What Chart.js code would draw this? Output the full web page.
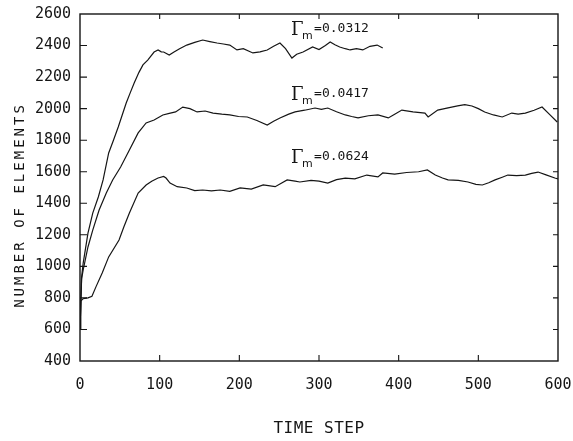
<!DOCTYPE html>
<html>
<head>
<meta charset="utf-8">
<script src="https://cdn.jsdelivr.net/npm/chart.js@4.4.1/dist/chart.umd.min.js"></script>
<style>
  html, body { margin: 0; padding: 0; background: #fff; }
</style>
</head>
<body>
<canvas id="chart" width="573" height="441"></canvas>
<script>
// Gamma_m = 0.0312
const timeA  = [0,2,4,10,16,23,29,36,42,48,53,58,63,68,74,79,85,93,98,102,105,112,118,125,134,144,154,163,172,180,188,197,205,217,226,235,243,251,258,266,272,280,292,300,308,314,320,326,333,339,347,355,364,373,380];
const countA = [600,930,1021,1211,1338,1440,1548,1719,1800,1884,1960,2036,2100,2163,2230,2277,2308,2359,2372,2360,2359,2340,2359,2380,2403,2420,2435,2425,2416,2410,2403,2372,2380,2353,2360,2372,2395,2416,2380,2321,2345,2359,2391,2375,2400,2422,2405,2391,2380,2372,2380,2372,2395,2403,2384];

// Gamma_m = 0.0417
const timeB  = [0,2,4,10,16,24,33,41,51,62,73,83,93,104,112,120,129,138,147,157,167,178,188,199,210,222,235,243,251,262,270,282,295,303,311,322,333,341,349,362,374,387,395,404,418,433,437,449,462,474,483,492,500,508,519,530,542,550,559,570,580,590,599];
const countB = [600,920,977,1123,1230,1357,1465,1548,1630,1738,1846,1909,1928,1960,1970,1979,2010,2000,1979,1985,1972,1965,1960,1950,1947,1925,1896,1920,1941,1965,1979,1990,2004,1995,2004,1980,1960,1950,1941,1955,1960,1941,1965,1991,1980,1972,1947,1991,2005,2017,2025,2017,2000,1979,1960,1947,1972,1965,1972,1990,2010,1960,1915];

// Gamma_m = 0.0624
const timeC  = [0,1,4,10,15,20,28,36,49,55,62,73,83,90,98,105,108,113,122,134,144,154,165,176,188,201,215,230,245,260,270,276,290,300,311,322,333,345,360,374,380,395,410,425,436,446,455,462,475,487,497,505,513,521,530,537,548,559,567,575,585,596,600];
const countC = [600,780,795,800,810,870,960,1060,1167,1250,1338,1465,1516,1540,1560,1570,1560,1528,1505,1497,1480,1484,1478,1484,1475,1497,1490,1516,1505,1548,1540,1535,1545,1540,1528,1550,1560,1555,1579,1567,1592,1585,1595,1600,1611,1579,1560,1548,1545,1535,1520,1516,1530,1548,1565,1579,1575,1579,1590,1598,1580,1560,1555];

const gammaLabels = ['=0.0312', '=0.0417', '=0.0624'];
const gammaAtTime  = [265, 265, 265];
const gammaAtCount = [2467, 2055, 1655];

const xTitle = 'TIME STEP';
const yTitle = 'NUMBER OF ELEMENTS';

const mono = "'DejaVu Sans Mono', monospace";
const ink  = '#151515';

const pts = (t, n) => t.map((x, i) => ({ x, y: n[i] }));

// box round the plot with inward ticks on all four sides
const framePlugin = {
  id: 'frame',
  afterDatasetsDraw(chart) {
    const { ctx, chartArea: a, scales: { x, y } } = chart;
    ctx.save();
    ctx.strokeStyle = ink;
    ctx.lineWidth = 1.4;
    ctx.strokeRect(a.left, a.top, a.right - a.left, a.bottom - a.top);
    ctx.lineWidth = 1.1;
    ctx.beginPath();
    x.ticks.forEach(t => {
      const px = x.getPixelForValue(t.value);
      if (px <= a.left + 1 || px >= a.right - 1) return;
      ctx.moveTo(px, a.bottom); ctx.lineTo(px, a.bottom - 6);
      ctx.moveTo(px, a.top);    ctx.lineTo(px, a.top + 5);
    });
    y.ticks.forEach(t => {
      const py = y.getPixelForValue(t.value);
      if (py <= a.top + 1 || py >= a.bottom - 1) return;
      ctx.moveTo(a.left, py);  ctx.lineTo(a.left + 7, py);
      ctx.moveTo(a.right, py); ctx.lineTo(a.right - 5, py);
    });
    ctx.stroke();
    ctx.restore();
  },
};

const textPlugin = {
  id: 'texts',
  afterDraw(chart) {
    const { ctx, chartArea: a, scales: { x, y } } = chart;
    ctx.save();
    ctx.fillStyle = ink;

    // axis titles
    ctx.font = `16px ${mono}`;
    ctx.letterSpacing = '0.5px';
    ctx.textAlign = 'center';
    ctx.textBaseline = 'middle';
    ctx.fillText(xTitle, (a.left + a.right) / 2, 429);

    ctx.save();
    ctx.translate(20, 205);
    ctx.rotate(-Math.PI / 2);
    ctx.font = `14px ${mono}`;
    ctx.letterSpacing = '3px';
    ctx.fillText(yTitle, 0, 0);
    ctx.restore();

    // curve labels
    ctx.letterSpacing = '0px';
    ctx.textAlign = 'left';
    ctx.textBaseline = 'alphabetic';
    gammaLabels.forEach((txt, i) => {
      const px = x.getPixelForValue(gammaAtTime[i]);
      const py = y.getPixelForValue(gammaAtCount[i]);
      ctx.font = "18px 'DejaVu Serif', serif";
      ctx.fillText('Γ', px, py);
      ctx.font = "11px 'DejaVu Sans', sans-serif";
      ctx.fillText('m', px + 11, py + 4);
      ctx.font = `13px ${mono}`;
      ctx.fillText(txt, px + 23, py - 3);
    });
    ctx.restore();
  },
};

const line = (t, n) => ({
  data: pts(t, n),
  borderColor: ink,
  borderWidth: 1.2,
  pointRadius: 0,
  tension: 0,
  fill: false,
});

new Chart(document.getElementById('chart'), {
  type: 'line',
  data: { datasets: [line(timeA, countA), line(timeB, countB), line(timeC, countC)] },
  options: {
    responsive: false,
    animation: false,
    layout: { padding: { top: 14, right: 15, left: 0, bottom: 0 } },
    plugins: { legend: { display: false }, tooltip: { enabled: false } },
    scales: {
      x: {
        type: 'linear', min: 0, max: 600,
        ticks: { stepSize: 100, color: ink, font: { family: mono, size: 15 }, padding: 15, maxRotation: 0, callback: v => String(v) },
        grid: { display: false, drawTicks: false },
        border: { display: false },
        afterFit: s => { s.height = 80; s.paddingLeft = 0; s.paddingRight = 0; },
      },
      y: {
        min: 400, max: 2600,
        ticks: { stepSize: 200, color: ink, font: { family: mono, size: 15 }, padding: 9, callback: v => String(v) },
        grid: { display: false, drawTicks: false },
        border: { display: false },
        afterFit: s => { s.width = 80; s.paddingTop = 0; s.paddingBottom = 0; },
      },
    },
  },
  plugins: [framePlugin, textPlugin],
});
</script>
</body>
</html>
